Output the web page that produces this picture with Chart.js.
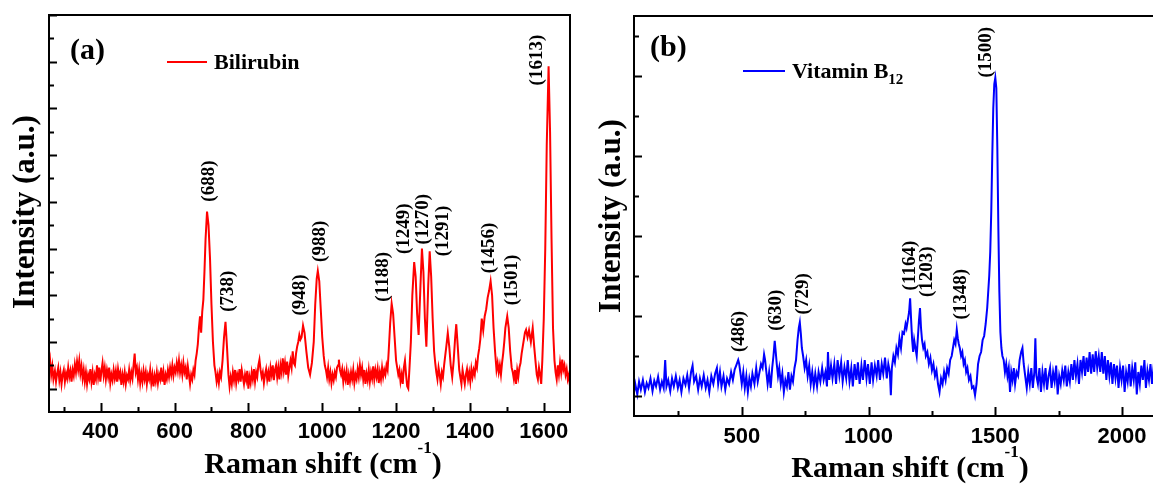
<!DOCTYPE html>
<html>
<head>
<meta charset="utf-8">
<script src="https://cdn.jsdelivr.net/npm/chart.js@4.4.1/dist/chart.umd.min.js"></script>
<style>
  html, body { margin: 0; padding: 0; background: #fff; overflow: hidden; }
  #wrap { position: relative; width: 1153px; height: 484px; overflow: hidden; }
  canvas { position: absolute; top: 0; }
</style>
</head>
<body>
<div id="wrap">
  <canvas id="chartA" width="580" height="484" style="left:0"></canvas>
  <canvas id="chartB" width="600" height="484" style="left:580px"></canvas>
</div>
<script>
// ---- (a) Bilirubin (arb. units, baseline ~0) ----
const biliShift = [
  260, 263, 266, 269, 272, 276, 279, 282, 285, 288,
  291, 294, 297, 300, 303, 306, 309, 312, 315, 318,
  321, 324, 327, 330, 333, 336, 339, 342, 345, 348,
  351, 354, 357, 360, 363, 366, 369, 372, 375, 378,
  381, 384, 387, 390, 393, 396, 399, 402, 405, 408,
  411, 414, 417, 420, 423, 426, 429, 432, 435, 438,
  441, 444, 447, 450, 453, 456, 459, 462, 465, 468,
  471, 474, 477, 480, 483, 486, 489, 492, 495, 498,
  501, 504, 507, 510, 513, 516, 519, 522, 525, 528,
  531, 534, 537, 540, 543, 546, 549, 552, 555, 558,
  561, 564, 567, 570, 573, 576, 579, 582, 585, 588,
  591, 594, 597, 600, 603, 606, 609, 612, 615, 618,
  621, 624, 627, 630, 633, 636, 639, 642, 645, 648,
  651, 654, 657, 660, 663, 666, 669, 672, 675, 678,
  681, 684, 688, 692, 696, 700, 704, 708, 711, 714,
  717, 720, 723, 726, 730, 734, 738, 742, 746, 749,
  752, 755, 758, 761, 764, 767, 770, 773, 776, 779,
  782, 785, 788, 791, 794, 797, 800, 803, 806, 809,
  812, 815, 818, 821, 824, 827, 830, 833, 836, 839,
  842, 845, 848, 851, 854, 857, 860, 863, 866, 869,
  872, 875, 878, 881, 884, 887, 890, 893, 896, 899,
  902, 905, 908, 911, 914, 917, 920, 923, 926, 929,
  932, 935, 938, 941, 944, 948, 952, 957, 962, 967,
  972, 977, 981, 985, 988, 992, 996, 1000, 1004, 1007,
  1010, 1013, 1016, 1019, 1022, 1025, 1028, 1031, 1034, 1037,
  1040, 1043, 1045, 1048, 1051, 1054, 1057, 1060, 1063, 1066,
  1069, 1072, 1075, 1078, 1081, 1084, 1087, 1090, 1093, 1096,
  1099, 1102, 1105, 1108, 1111, 1114, 1117, 1120, 1123, 1126,
  1129, 1132, 1135, 1138, 1141, 1144, 1147, 1150, 1153, 1156,
  1159, 1162, 1165, 1168, 1171, 1174, 1177, 1180, 1184, 1188,
  1192, 1196, 1200, 1203, 1206, 1209, 1212, 1215, 1218, 1221,
  1224, 1227, 1230, 1233, 1236, 1240, 1244, 1249, 1253, 1257,
  1261, 1266, 1270, 1274, 1278, 1282, 1287, 1291, 1295, 1299,
  1303, 1306, 1309, 1312, 1315, 1318, 1321, 1324, 1327, 1330,
  1333, 1336, 1340, 1344, 1348, 1352, 1356, 1360, 1363, 1367,
  1371, 1374, 1377, 1380, 1383, 1386, 1389, 1392, 1395, 1398,
  1401, 1404, 1407, 1410, 1413, 1416, 1419, 1422, 1425, 1428,
  1432, 1436, 1440, 1444, 1448, 1452, 1456, 1460, 1464, 1468,
  1472, 1475, 1478, 1481, 1484, 1487, 1490, 1493, 1496, 1501,
  1505, 1509, 1513, 1516, 1519, 1522, 1525, 1528, 1531, 1534,
  1537, 1540, 1543, 1546, 1549, 1552, 1556, 1560, 1565, 1570,
  1574, 1578, 1581, 1584, 1587, 1590, 1593, 1596, 1600, 1604,
  1608, 1613, 1617, 1621, 1625, 1629, 1632, 1635, 1638, 1641,
  1644, 1647, 1650, 1653, 1656, 1659, 1662, 1665, 1668, 1671
];
const biliIntensity = [
  0.42, 0.6, 0.3, 0.48, 0.2, 0.38, 0.15, 0.32, 0.45, 0.18,
  0.35, 0.1, 0.3, 0.4, 0.15, 0.33, 0.22, 0.45, 0.25, 0.38,
  0.15, 0.4, 0.28, 0.52, 0.35, 0.58, 0.4, 0.6, 0.32, 0.48,
  0.22, 0.4, 0.15, 0.35, 0.1, 0.3, 0.2, 0.42, 0.15, 0.35,
  0.08, 0.3, 0.2, 0.5, 0.25, 0.45, 0.15, 0.38, 0.55, 0.28,
  0.45, 0.2, 0.4, 0.25, 0.45, 0.12, 0.3, 0.18, 0.4, 0.22,
  0.38, 0.15, 0.42, 0.25, 0.35, 0.08, 0.3, 0.15, 0.35, 0.1,
  0.28, 0.2, 0.4, 0.18, 0.35, 0.22, 0.5, 0.75, 0.35, 0.45,
  0.2, 0.4, 0.12, 0.32, 0.15, 0.38, 0.2, 0.35, 0.1, 0.3,
  0.2, 0.4, 0.12, 0.3, 0.05, 0.28, 0.15, 0.35, 0.12, 0.3,
  0.2, 0.45, 0.15, 0.35, 0.08, 0.3, 0.2, 0.4, 0.25, 0.45,
  0.3, 0.5, 0.28, 0.45, 0.35, 0.55, 0.38, 0.6, 0.35, 0.5,
  0.3, 0.55, 0.35, 0.45, 0.2, 0.48, 0.3, 0.1, 0.3, 0.2,
  0.4, 0.3, 0.6, 0.75, 0.95, 1.3, 1.55, 1.2, 1.65, 1.9,
  2.5, 3.2, 3.79, 3.5, 2.8, 1.8, 1.0, 0.5, 0.35, 0.15,
  0.3, 0.12, 0.35, 0.25, 0.6, 1.1, 1.43, 0.9, 0.3, 0.05,
  0.25, 0.1, 0.35, 0.18, 0.4, 0.12, 0.3, 0.2, 0.42, 0.15,
  0.4, 0.25, 0.1, 0.3, 0.18, 0.38, 0.0, 0.25, 0.12, 0.35,
  0.2, 0.42, 0.15, 0.35, 0.25, 0.5, 0.62, 0.4, 0.25, 0.35,
  0.12, 0.3, 0.42, 0.2, 0.35, 0.15, 0.45, 0.3, 0.5, 0.18,
  0.4, 0.5, 0.25, 0.45, 0.2, 0.5, 0.35, 0.65, 0.38, 0.55,
  0.3, 0.58, 0.28, 0.45, 0.6, 0.45, 0.8, 0.55, 0.5, 0.75,
  0.9, 1.0, 1.15, 1.05, 1.1, 1.35, 1.2, 0.8, 0.45, 0.3,
  0.55, 1.0, 1.8, 2.35, 2.52, 2.3, 1.7, 1.1, 0.7, 0.5,
  0.4, 0.25, 0.45, 0.2, 0.35, 0.12, 0.3, 0.18, 0.35, 0.25,
  0.45, 0.5, 0.62, 0.4, 0.3, 0.42, 0.15, 0.35, 0.2, 0.38,
  0.08, 0.3, 0.15, 0.35, 0.2, 0.4, 0.12, 0.3, 0.2, 0.42,
  0.25, 0.5, 0.3, 0.45, 0.2, 0.4, 0.1, 0.32, 0.18, 0.4,
  0.15, 0.35, 0.22, 0.48, 0.2, 0.4, 0.25, 0.42, 0.12, 0.35,
  0.2, 0.45, 0.25, 0.4, 0.3, 0.5, 0.4, 0.8, 1.4, 1.82,
  1.6, 1.1, 0.6, 0.45, 0.3, 0.4, 0.15, 0.3, 0.1, 0.45,
  0.6, 0.3, 0.05, 0.0, 0.4, 1.0, 2.0, 2.71, 2.4, 1.6,
  1.15, 2.2, 3.0, 2.5, 1.5, 0.9, 2.2, 2.94, 2.4, 1.5,
  0.8, 0.55, 0.35, 0.2, 0.45, 0.3, 0.1, 0.35, 0.25, 0.5,
  0.7, 0.9, 1.19, 0.9, 0.5, 0.25, 0.6, 1.1, 1.38, 0.9,
  0.4, 0.25, 0.1, 0.4, 0.25, 0.1, 0.3, 0.42, 0.2, 0.35,
  0.15, 0.42, 0.25, 0.4, 0.3, 0.55, 0.45, 0.7, 0.85, 1.05,
  1.5, 1.25, 1.55, 1.7, 1.95, 2.1, 2.3, 2.0, 1.3, 0.8,
  0.4, 0.55, 0.35, 0.5, 0.3, 0.55, 0.75, 1.0, 1.3, 1.55,
  1.3, 0.8, 0.45, 0.35, 0.2, 0.4, 0.1, 0.4, 0.25, 0.45,
  0.55, 0.75, 0.9, 1.05, 1.2, 1.26, 1.1, 1.25, 1.0, 1.3,
  0.9, 0.55, 0.3, 0.2, 0.45, 0.3, 0.1, 0.6, 1.5, 3.0,
  5.2, 6.9, 5.5, 3.2, 1.3, 0.6, 0.35, 0.2, 0.5, 0.3,
  0.55, 0.35, 0.62, 0.4, 0.5, 0.3, 0.42, 0.2, 0.3, 0.05
];
const biliPeaks = [688, 738, 948, 988, 1188, 1249, 1270, 1291, 1456, 1501, 1613];
const biliTicks = [400, 600, 800, 1000, 1200, 1400, 1600];

// ---- (b) Vitamin B12 ----
const b12Shift = [
  75, 80, 88, 95, 102, 110, 118, 125, 132, 140,
  148, 155, 162, 170, 178, 185, 192, 198, 203, 210,
  218, 225, 232, 240, 248, 255, 262, 270, 278, 285,
  292, 300, 306, 312, 320, 328, 335, 342, 350, 358,
  365, 372, 380, 388, 395, 402, 407, 414, 420, 428,
  435, 442, 450, 458, 465, 472, 478, 486, 490, 495,
  500, 506, 512, 518, 524, 530, 536, 542, 550, 557,
  563, 570, 576, 582, 588, 592, 597, 602, 608, 614,
  620, 625, 630, 634, 638, 643, 648, 654, 660, 666,
  672, 678, 684, 690, 696, 702, 708, 714, 720, 725,
  729, 733, 737, 742, 748, 754, 760, 766, 772, 778,
  784, 790, 797, 803, 810, 817, 823, 830, 836, 840,
  845, 852, 858, 865, 872, 878, 885, 892, 898, 905,
  912, 918, 925, 932, 938, 945, 952, 958, 965, 972,
  978, 985, 992, 998, 1005, 1012, 1018, 1025, 1032, 1038,
  1045, 1052, 1058, 1065, 1072, 1078, 1084, 1088, 1092, 1098,
  1104, 1110, 1116, 1122, 1128, 1134, 1140, 1146, 1150, 1155,
  1160, 1164, 1168, 1172, 1176, 1180, 1185, 1190, 1195, 1199,
  1203, 1207, 1211, 1216, 1221, 1226, 1232, 1238, 1244, 1250,
  1256, 1262, 1268, 1274, 1280, 1286, 1292, 1298, 1304, 1310,
  1316, 1322, 1328, 1333, 1338, 1343, 1348, 1352, 1356, 1360,
  1365, 1370, 1375, 1380, 1385, 1390, 1396, 1402, 1408, 1414,
  1420, 1426, 1432, 1438, 1444, 1450, 1456, 1462, 1468, 1472,
  1476, 1480, 1484, 1488, 1492, 1496, 1500, 1504, 1508, 1512,
  1516, 1520, 1524, 1528, 1533, 1538, 1543, 1548, 1553, 1558,
  1563, 1568, 1573, 1578, 1584, 1590, 1596, 1602, 1607, 1612,
  1618, 1624, 1630, 1636, 1642, 1648, 1654, 1658, 1662, 1668,
  1674, 1680, 1686, 1692, 1698, 1704, 1710, 1716, 1722, 1728,
  1734, 1740, 1746, 1752, 1758, 1764, 1770, 1776, 1782, 1788,
  1794, 1800, 1806, 1812, 1818, 1824, 1830, 1836, 1842, 1848,
  1854, 1860, 1866, 1872, 1878, 1884, 1890, 1896, 1902, 1908,
  1914, 1920, 1926, 1932, 1938, 1944, 1950, 1956, 1962, 1968,
  1974, 1980, 1986, 1992, 1998, 2004, 2010, 2016, 2022, 2028,
  2034, 2040, 2046, 2052, 2058, 2064, 2070, 2076, 2082, 2088,
  2094, 2100, 2106, 2112, 2118, 2124, 2130, 2140, 2150, 2160,
  2170, 2180, 2190, 2200
];
const b12Intensity = [
  0.05, 0.15, 0.02, 0.18, 0.08, 0.2, 0.05, 0.16, 0.1, 0.22,
  0.06, 0.19, 0.12, 0.24, 0.08, 0.18, 0.1, 0.45, 0.12, 0.2,
  0.06, 0.22, 0.12, 0.25, 0.1, 0.2, 0.05, 0.22, 0.14, 0.26,
  0.1, 0.3, 0.38, 0.18, 0.25, 0.08, 0.22, 0.12, 0.26, 0.1,
  0.2, 0.05, 0.25, 0.15, 0.28, 0.35, 0.15, 0.3, 0.12, 0.25,
  0.08, 0.22, 0.15, 0.3, 0.2, 0.33, 0.38, 0.45, 0.4, 0.28,
  0.15, 0.3, 0.1, 0.25, 0.05, 0.22, 0.12, 0.28, 0.15, 0.35,
  0.18, 0.3, 0.4, 0.35, 0.52, 0.45, 0.3, 0.15, 0.3, 0.1,
  0.35, 0.5, 0.69, 0.55, 0.4, 0.25, 0.35, 0.15, 0.28, 0.05,
  0.2, 0.12, 0.3, 0.08, 0.25, 0.18, 0.35, 0.45, 0.7, 0.85,
  0.92, 0.78, 0.6, 0.5, 0.35, 0.45, 0.25, 0.38, 0.15, 0.3,
  0.12, 0.28, 0.12, 0.3, 0.18, 0.35, 0.2, 0.3, 0.12, 0.55,
  0.2, 0.38, 0.22, 0.4, 0.15, 0.45, 0.25, 0.42, 0.18, 0.36,
  0.22, 0.45, 0.18, 0.35, 0.12, 0.4, 0.2, 0.42, 0.15, 0.38,
  0.2, 0.45, 0.22, 0.4, 0.15, 0.42, 0.2, 0.38, 0.25, 0.45,
  0.2, 0.4, 0.28, 0.48, 0.22, 0.4, 0.3, 0.01, 0.35, 0.5,
  0.42, 0.6, 0.52, 0.72, 0.6, 0.8, 0.78, 0.9, 0.85, 0.95,
  1.05, 1.22, 0.95, 0.7, 0.55, 0.7, 0.6, 0.5, 0.75, 0.95,
  1.1, 0.85, 0.7, 0.6, 0.65, 0.5, 0.55, 0.4, 0.48, 0.32,
  0.4, 0.25, 0.32, 0.15, 0.05, 0.22, 0.15, 0.3, 0.2, 0.35,
  0.28, 0.45, 0.5, 0.6, 0.7, 0.65, 0.83, 0.72, 0.65, 0.6,
  0.5, 0.55, 0.4, 0.45, 0.3, 0.35, 0.2, 0.25, 0.1, 0.12,
  0.01, 0.15, 0.4, 0.5, 0.55, 0.7, 0.75, 0.9, 1.1, 1.3,
  1.5, 1.8, 2.3, 3.0, 3.6, 3.9, 3.98, 3.85, 3.1, 2.1,
  1.3, 0.8, 0.6, 0.5, 0.45, 0.3, 0.4, 0.25, 0.35, 0.05,
  0.3, 0.2, 0.35, 0.15, 0.3, 0.25, 0.45, 0.55, 0.6, 0.4,
  0.25, 0.1, 0.3, 0.15, 0.35, 0.1, 0.3, 0.72, 0.25, 0.15,
  0.35, 0.05, 0.3, 0.15, 0.35, 0.08, 0.25, 0.35, 0.1, 0.3,
  0.18, 0.38, 0.02, 0.25, 0.15, 0.32, 0.2, 0.38, 0.12, 0.3,
  0.18, 0.4, 0.2, 0.45, 0.25, 0.4, 0.15, 0.45, 0.3, 0.5,
  0.25, 0.48, 0.3, 0.55, 0.28, 0.52, 0.3, 0.56, 0.35, 0.5,
  0.3, 0.55, 0.28, 0.5, 0.2, 0.45, 0.25, 0.42, 0.15, 0.4,
  0.22, 0.38, 0.1, 0.35, 0.2, 0.38, 0.05, 0.3, 0.18, 0.4,
  0.12, 0.35, 0.2, 0.42, 0.02, 0.3, 0.15, 0.38, 0.2, 0.45,
  0.1, 0.32, 0.2, 0.4, 0.15, 0.35, 0.22, 0.3, 0.15, 0.35,
  0.2, 0.3, 0.18, 0.32
];
const b12Peaks = [486, 630, 729, 1164, 1203, 1348, 1500];
const b12Ticks = [500, 1000, 1500, 2000];

// label nudges in px: [dx, gap above the peak top]
const biliLabelNudge = [[1,10],[2,10],[-4,10],[1,9],[-10,2],[-11,8],[0,4],[12,-5],[-3,8],[4,11],[-12,-19]];
const b12LabelNudge = [[0,8],[0,10],[2,8],[-1,8],[6,11],[3,10],[-10,0]];

const SERIF = '"Liberation Serif", "Times New Roman", serif';
const SANS = '"Liberation Sans", Arial, sans-serif';

function toPoints(xs, ys) {
  return xs.map((x, i) => ({ x: x, y: ys[i] }));
}

// frame, inward ticks, peak labels, titles, legend
const decor = {
  id: 'decor',
  afterDraw(chart, args, o) {
    const ctx = chart.ctx;
    const { left, right, top, bottom } = chart.chartArea;
    const xs = chart.scales.x, ys = chart.scales.y;
    ctx.save();
    ctx.strokeStyle = '#000';
    ctx.fillStyle = '#000';
    ctx.lineWidth = 2;

    // x ticks (bottom, inward)
    for (let v = Math.ceil(xs.min / o.xMinor) * o.xMinor; v <= xs.max; v += o.xMinor) {
      const px = Math.round(xs.getPixelForValue(v)) + 0.5;
      const len = v % o.xMajor === 0 ? 9 : 5;
      ctx.beginPath(); ctx.moveTo(px, bottom); ctx.lineTo(px, bottom - len); ctx.stroke();
    }
    // y ticks (left, inward)
    for (let v = 0; v <= ys.max; v += 0.5) {
      const py = Math.round(ys.getPixelForValue(v)) + 0.5;
      const len = v % 1 === 0 ? 8 : 5;
      ctx.beginPath(); ctx.moveTo(left, py); ctx.lineTo(left + len, py); ctx.stroke();
    }
    ctx.strokeRect(left, top, right - left, bottom - top);

    // rotated peak labels
    ctx.font = 'bold 19px ' + SERIF;
    ctx.textAlign = 'left';
    ctx.textBaseline = 'middle';
    o.peaks.forEach((p, i) => {
      const idx = o.shift.indexOf(p);
      const px = xs.getPixelForValue(p) + o.nudge[i][0];
      const py = ys.getPixelForValue(o.intensity[idx]) - o.nudge[i][1];
      ctx.save();
      ctx.translate(px, py);
      ctx.rotate(-Math.PI / 2);
      ctx.fillText('(' + p + ')', 0, 1);
      ctx.restore();
    });

    // panel tag
    ctx.font = 'bold 30px ' + SERIF;
    ctx.fillText(o.tag, o.tagPos[0], o.tagPos[1]);

    // legend
    ctx.strokeStyle = o.color;
    ctx.beginPath(); ctx.moveTo(o.legend[0], o.legend[2]); ctx.lineTo(o.legend[1], o.legend[2]); ctx.stroke();
    ctx.font = 'bold 22px ' + SERIF;
    ctx.fillText(o.legendText, o.legend[1] + 7, o.legend[2] + 1);
    if (o.legendSub) {
      const w = ctx.measureText(o.legendText).width;
      ctx.font = 'bold 15px ' + SERIF;
      ctx.fillText(o.legendSub, o.legend[1] + 7 + w, o.legend[2] + 9);
    }

    // x title with superscript
    ctx.textBaseline = 'alphabetic';
    const big = 'bold 30px ' + SERIF, small = 'bold 17px ' + SERIF;
    ctx.font = big; const w1 = ctx.measureText('Raman shift (cm').width; const w3 = ctx.measureText(')').width;
    ctx.font = small; const w2 = ctx.measureText('-1').width;
    let tx = o.xTitle[0] - (w1 + w2 + w3) / 2;
    const ty = o.xTitle[1];
    ctx.font = big; ctx.fillText('Raman shift (cm', tx, ty);
    ctx.font = small; ctx.fillText('-1', tx + w1, ty - 20);
    ctx.font = big; ctx.fillText(')', tx + w1 + w2, ty);

    // y title
    ctx.save();
    ctx.translate(o.yTitle[0], o.yTitle[1]);
    ctx.rotate(-Math.PI / 2);
    ctx.textAlign = 'center';
    ctx.textBaseline = 'middle';
    ctx.font = 'bold 31px ' + SERIF;
    ctx.fillText('Intensity (a.u.)', 0, 0);
    ctx.restore();

    ctx.restore();
  }
};

function makeChart(id, pts, color, x, y, pad, tickPad, deco) {
  return new Chart(document.getElementById(id).getContext('2d'), {
    type: 'line',
    data: { datasets: [{ data: pts, borderColor: color, borderWidth: 2, pointRadius: 0, tension: 0 }] },
    options: {
      responsive: false,
      animation: false,
      devicePixelRatio: 1,
      layout: { padding: pad },
      plugins: { legend: { display: false }, tooltip: { enabled: false }, decor: deco },
      scales: {
        x: {
          type: 'linear', min: x.min, max: x.max,
          afterBuildTicks: (scale) => { scale.ticks = x.ticks.map(v => ({ value: v })); },
          ticks: { autoSkip: false, maxRotation: 0, callback: (v) => String(v),
                   color: '#000', padding: tickPad, font: { family: SANS, size: 22, weight: 'bold' } },
          grid: { display: false, drawTicks: false },
          border: { display: false }
        },
        y: { display: false, min: y.min, max: y.max }
      }
    },
    plugins: [decor]
  });
}

makeChart('chartA', toPoints(biliShift, biliIntensity), '#ff0000',
  { min: 260, max: 1671, ticks: biliTicks }, { min: -0.5, max: 8 },
  { left: 49, right: 10, top: 15, bottom: 31.6 }, 7,
  { xMajor: 200, xMinor: 100, peaks: biliPeaks, shift: biliShift, intensity: biliIntensity,
    nudge: biliLabelNudge, tag: '(a)', tagPos: [70, 51], color: '#ff0000',
    legend: [167, 207, 62], legendText: 'Bilirubin', legendSub: '',
    xTitle: [323, 473], yTitle: [26, 212] });

makeChart('chartB', toPoints(b12Shift, b12Intensity), '#0000ff',
  { min: 75, max: 2189, ticks: b12Ticks }, { min: -0.25, max: 4.75 },
  { left: 54, right: 10, top: 16, bottom: 25.6 }, 8,
  { xMajor: 500, xMinor: 250, peaks: b12Peaks, shift: b12Shift, intensity: b12Intensity,
    nudge: b12LabelNudge, tag: '(b)', tagPos: [70, 48], color: '#0000ff',
    legend: [163, 205, 71], legendText: 'Vitamin B', legendSub: '12',
    xTitle: [330, 477], yTitle: [32, 216] });
</script>
</body>
</html>
